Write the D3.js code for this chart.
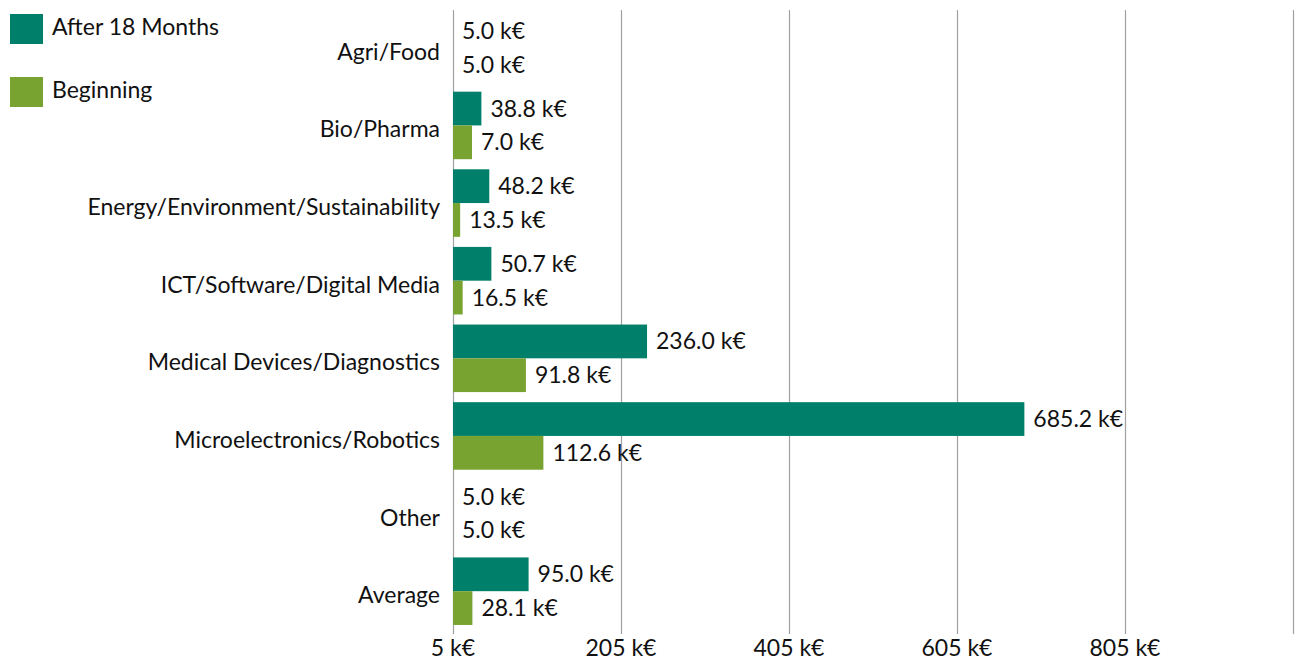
<!DOCTYPE html>
<html>
<head>
<meta charset="utf-8">
<script src="https://cdn.jsdelivr.net/npm/d3@7"></script>
<style>
  body { margin: 0; background: #fff; }
  text { font-family: "Lato", "Open Sans", sans-serif; fill: #111; }
</style>
</head>
<body>
<script>
var width = 1295,
    height = 662;

var categories = ["Agri/Food", "Bio/Pharma", "Energy/Environment/Sustainability",
  "ICT/Software/Digital Media", "Medical Devices/Diagnostics",
  "Microelectronics/Robotics", "Other", "Average"];
var series = ["After 18 Months", "Beginning"];
var colors = ["#00806a", "#78a330"];

// bar lengths (k€)
var afterValues = [5.0, 38.8, 48.2, 50.7, 236.0, 685.2, 5.0, 95.0];
var beginValues = [5.0, 27.6, 13.5, 16.5, 91.8, 112.6, 5.0, 28.1];
// printed labels
var afterLabels = [5.0, 38.8, 48.2, 50.7, 236.0, 685.2, 5.0, 95.0];
var beginLabels = [5.0, 7.0, 13.5, 16.5, 91.8, 112.6, 5.0, 28.1];
var ticks = [5, 205, 405, 605, 805, 1005];

var svg = d3.select("body").append("svg")
    .attr("width", width)
    .attr("height", height);

var x = d3.scaleLinear().domain([5, 1005]).range([453, 1293]);
var y = d3.scaleBand().domain(categories).range([9, 630])
    .paddingInner(0.13).paddingOuter(0.065);
var y1 = d3.scaleBand().domain(series).range([0, y.bandwidth()]);

// gridlines
svg.selectAll(".grid")
  .data(ticks)
  .enter().append("line")
    .attr("class", "grid")
    .attr("x1", function(d) { return x(d) + 0.5; })
    .attr("x2", function(d) { return x(d) + 0.5; })
    .attr("y1", 10)
    .attr("y2", 634)
    .attr("stroke", "#a0a0a0")
    .attr("stroke-width", 1.2);

// tick labels (last one not printed)
svg.selectAll(".tick")
  .data(ticks.slice(0, 5))
  .enter().append("text")
    .attr("x", function(d) { return x(d); })
    .attr("y", 656)
    .attr("text-anchor", "middle")
    .style("font-size", "23px")
    .text(function(d) { return d + " k€"; });

var rows = categories.map(function(c, i) {
  return { cat: c, vals: [
    { s: series[0], v: afterValues[i], l: afterLabels[i] },
    { s: series[1], v: beginValues[i], l: beginLabels[i] }
  ]};
});

var group = svg.selectAll(".row")
  .data(rows)
  .enter().append("g")
    .attr("class", "row")
    .attr("transform", function(d) { return "translate(0," + y(d.cat) + ")"; });

group.selectAll("rect")
  .data(function(d) { return d.vals; })
  .enter().append("rect")
    .attr("x", x(5))
    .attr("y", function(d) { return y1(d.s); })
    .attr("width", function(d) { return x(d.v) - x(5); })
    .attr("height", y1.bandwidth())
    .attr("fill", function(d, i) { return colors[i]; });

group.selectAll(".val")
  .data(function(d) { return d.vals; })
  .enter().append("text")
    .attr("class", "val")
    .attr("x", function(d) { return x(d.v) + 9; })
    .attr("y", function(d) { return y1(d.s) + y1.bandwidth() / 2 + 8; })
    .style("font-size", "23px")
    .text(function(d) { return d.l.toFixed(1) + " k€"; });

group.append("text")
    .attr("x", 440)
    .attr("y", y.bandwidth() / 2 + 12)
    .attr("text-anchor", "end")
    .style("font-size", "23px")
    .text(function(d) { return d.cat; });

// legend
var legend = svg.selectAll(".legend")
  .data(series)
  .enter().append("g")
    .attr("transform", function(d, i) { return "translate(10," + (14 + i * 63) + ")"; });

legend.append("rect")
    .attr("width", 33)
    .attr("height", 30)
    .attr("fill", function(d, i) { return colors[i]; });

legend.append("text")
    .attr("x", 42)
    .attr("y", 21)
    .style("font-size", "23px")
    .text(function(d) { return d; });
</script>
</body>
</html>
